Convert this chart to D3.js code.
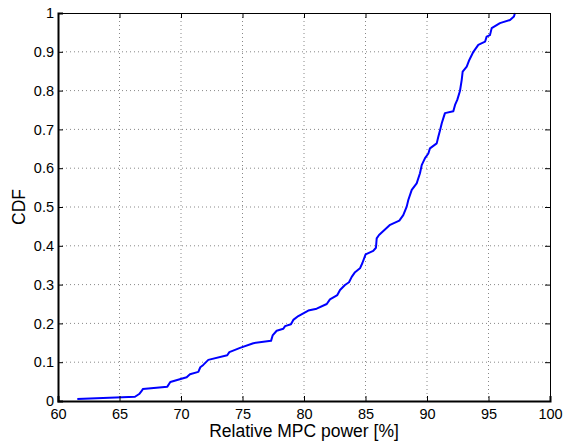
<!DOCTYPE html>
<html><head><meta charset="utf-8">
<script src="https://cdn.jsdelivr.net/npm/d3@7"></script>
<style>
body{margin:0;background:#fff;}
svg text{font-family:"Liberation Sans",Arial,Helvetica,sans-serif;}
</style></head>
<body><svg id="c" width="564" height="441"></svg>
<script>
const xTicks = [60,65,70,75,80,85,90,95,100];
const yTicks = [0,0.1,0.2,0.3,0.4,0.5,0.6,0.7,0.8,0.9,1];
const yTickLabels = ["0","0.1","0.2","0.3","0.4","0.5","0.6","0.7","0.8","0.9","1"];
const powerValues = [61.57,66.26,66.6,66.85,66.9,68.89,69.13,70.46,70.73,71.41,71.57,71.81,72.22,73.76,73.93,74.8,
  75.88,77.32,77.45,77.78,78.32,78.46,78.94,79.13,79.54,80.35,81.03,81.85,82.11,82.71,82.93,83.33,83.66,83.88,84.15,84.55,84.74,85.01,85.63,85.85,85.91,86.1,
  87.0,87.75,88.07,88.35,88.48,88.76,89.16,89.43,89.57,89.84,90.11,90.24,90.79,90.92,91.06,91.2,91.33,91.46,92.14,92.28,92.46,92.68,92.82,92.9,93.23,93.44,93.77,94.17,94.72,94.85,95.12,95.26,95.93,96.75,97.07,97.15];
const cdfValues = [0.005,0.011,0.018,0.028,0.031,0.037,0.049,0.061,0.069,0.075,0.087,0.093,0.106,0.118,0.126,0.137,
  0.149,0.155,0.169,0.181,0.186,0.193,0.198,0.209,0.219,0.233,0.238,0.25,0.262,0.273,0.286,0.299,0.306,0.32,0.332,0.342,0.355,0.378,0.387,0.395,0.419,0.428,
  0.454,0.465,0.479,0.501,0.518,0.544,0.561,0.587,0.608,0.626,0.638,0.651,0.664,0.681,0.698,0.716,0.729,0.742,0.747,0.763,0.776,0.799,0.827,0.849,0.862,0.879,0.9,0.918,0.926,0.939,0.943,0.961,0.974,0.982,0.991,1.0];

const svg = d3.select("#c");
const L=58, R=550, T=13, B=401;
const x = d3.scaleLinear().domain([60,100]).range([L,R]);
const y = d3.scaleLinear().domain([0,1]).range([B,T]);

// grid
const g = svg.append("g");
g.selectAll(".vg").data(xTicks.slice(1,-1)).enter().append("line")
  .attr("x1",d=>x(d)).attr("x2",d=>x(d)).attr("y1",T).attr("y2",B)
  .attr("stroke","#888").attr("stroke-width",1).attr("stroke-dasharray","1,3");
g.selectAll(".hg").data(yTicks.slice(1,-1)).enter().append("line")
  .attr("y1",d=>y(d)).attr("y2",d=>y(d)).attr("x1",L).attr("x2",R)
  .attr("stroke","#888").attr("stroke-width",1).attr("stroke-dasharray","1,3");

// curve
const line = d3.line().x((d,i)=>x(powerValues[i])).y(d=>y(d));
svg.append("path").datum(cdfValues).attr("d",line)
  .attr("fill","none").attr("stroke","#0000ff").attr("stroke-width",2).attr("stroke-linejoin","round");

// axes
const xb = d3.axisBottom(x).tickValues(xTicks).tickSize(-5).tickFormat(d3.format("d")).tickPadding(8);
const xt = d3.axisTop(x).tickValues(xTicks).tickSize(-5).tickFormat("");
const yl = d3.axisLeft(y).tickValues(yTicks).tickSize(-5).tickFormat((d,i)=>yTickLabels[i]).tickPadding(4);
const yr = d3.axisRight(y).tickValues(yTicks).tickSize(-5).tickFormat("");
function style(sel,w){
  sel.select(".domain").attr("stroke","#000").attr("stroke-width",w);
  sel.selectAll(".tick line").attr("stroke","#000").attr("stroke-width",1);
  sel.selectAll(".tick text").attr("fill","#000").attr("font-size","14.5px")
    .attr("font-family","'Liberation Sans',Arial,sans-serif");
}
svg.append("g").attr("transform",`translate(0,${T})`).call(xt).call(s=>style(s,1));
svg.append("g").attr("transform",`translate(${R},0)`).call(yr).call(s=>style(s,1));
svg.append("g").attr("transform",`translate(0,${B})`).call(xb).call(s=>style(s,2));
svg.append("g").attr("transform",`translate(${L},0)`).call(yl).call(s=>style(s,2));

svg.append("text").attr("x",(L+R)/2).attr("y",437).attr("text-anchor","middle")
  .attr("font-size","17.5px").text("Relative MPC power [%]");
svg.append("text").attr("transform",`translate(25,${(T+B)/2}) rotate(-90)`).attr("text-anchor","middle")
  .attr("font-size","17.5px").text("CDF");
</script></body></html>
